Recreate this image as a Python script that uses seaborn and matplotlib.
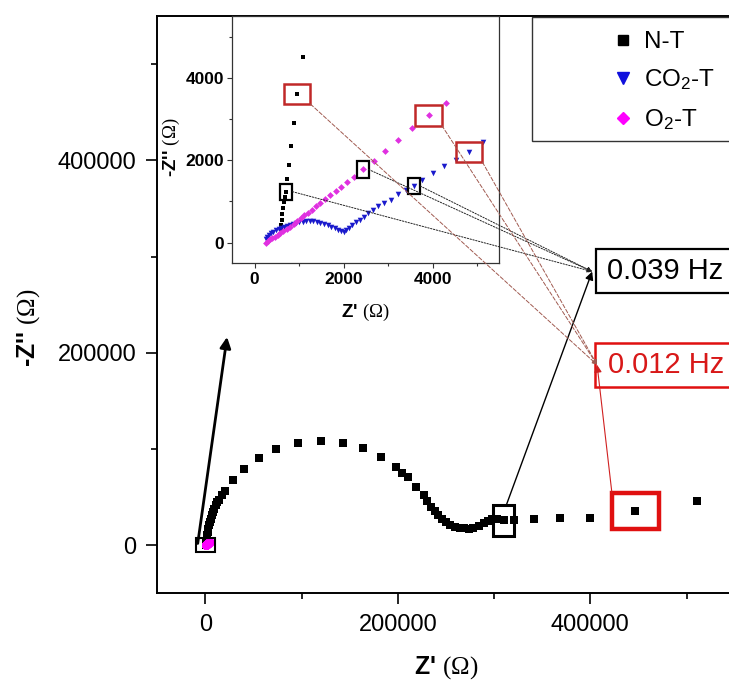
import matplotlib
matplotlib.use("Agg")
import matplotlib.pyplot as plt
import seaborn as sns
from matplotlib.patches import Rectangle, ConnectionPatch
from matplotlib.lines import Line2D
from matplotlib.ticker import MultipleLocator

sns.set_style("ticks")
plt.rcParams["font.family"] = ["Liberation Sans", "DejaVu Sans"]
plt.rcParams["mathtext.fontset"] = "custom"
plt.rcParams["mathtext.rm"] = "Liberation Sans"
plt.rcParams["mathtext.sf"] = "Liberation Serif"
plt.rcParams["mathtext.it"] = "Liberation Sans:italic"
plt.rcParams["mathtext.bf"] = "Liberation Sans:bold"
plt.rcParams["text.color"] = "black"
plt.rcParams["axes.labelcolor"] = "black"
plt.rcParams["xtick.color"] = "black"
plt.rcParams["ytick.color"] = "black"
plt.rcParams["xtick.labelcolor"] = "black"
plt.rcParams["ytick.labelcolor"] = "black"

# ---------------- data ----------------
series_names = ["N-T", "CO$_2$-T", "O$_2$-T"]

nt_x = [585, 598, 612, 626, 641, 660, 688, 717, 733, 770, 823, 890, 957, 1083,
        1200, 1700, 2300, 3000, 3800, 4700, 5700, 6800, 8000, 9300, 10700, 12200,
        13800, 17200, 20800, 28600, 40000, 55400, 73400, 96000, 120100, 143000,
        163700, 182800, 197900, 204000, 210600, 219000, 226700, 230500, 234300,
        238200, 242000, 245800, 249600, 254400, 259300, 264100, 268900, 273600,
        278400, 284100, 289900, 294000, 297700, 303500, 309800, 320200, 341600,
        368500, 399200, 446400, 510400]
nt_y = [330, 440, 559, 690, 840, 990, 1110, 1238, 1536, 1896, 2352, 2911, 3607, 4495,
        8000, 11000, 14000, 17000, 20500, 24000, 27500, 31000, 34500, 38000, 41500, 44500,
        47000, 52000, 56600, 67700, 79000, 90600, 100300, 106600, 108700, 106600,
        100700, 91300, 80900, 75500, 70500, 60800, 52000, 46000, 39900,
        35500, 31250, 27500, 24300, 21500, 19100, 18000, 17400, 17200,
        17400, 19500, 22600, 25500, 27000, 27000, 26000, 26000, 27100,
        28500, 27800, 35800, 46200]

co2_x = [250, 280, 320, 370, 420, 480, 540, 600, 660, 720, 790, 860, 930, 1000, 1080,
         1160, 1240, 1320, 1400, 1480, 1560, 1640, 1720, 1800, 1880, 1950, 2000, 2060,
         2130, 2200, 2280, 2360, 2450, 2550, 2660, 2780, 2910, 3065, 3220, 3400, 3587,
         3760, 4000, 4267, 4522, 4821, 5142]
co2_y = [100, 150, 190, 230, 265, 300, 330, 360, 385, 410, 435, 455, 475, 490, 505,
         515, 520, 515, 500, 480, 455, 425, 390, 350, 310, 275, 260, 300,
         360, 420, 490, 560, 630, 710, 790, 880, 970, 1040, 1180, 1290, 1375,
         1530, 1700, 1863, 2000, 2199, 2455]

o2_x = [262, 300, 350, 400, 460, 520, 580, 650, 720, 800, 880, 960, 1040, 1120, 1200,
        1290, 1380, 1480, 1590, 1700, 1820, 1950, 2080, 2230, 2429, 2680, 2940, 3230,
        3540, 3909, 4305]
o2_y = [0, 40, 80, 110, 150, 190, 230, 280, 330, 390, 450, 520, 590, 660, 730,
        800, 880, 960, 1050, 1150, 1250, 1360, 1470, 1600, 1776, 1990, 2220, 2480,
        2780, 3087, 3391]

main_ticks = [0, 200000, 400000]
main_ticklabels = ["0", "200000", "400000"]
inset_ticks = [0, 2000, 4000]
inset_ticklabels = ["0", "2000", "4000"]
freq_labels = ["0.039 Hz", "0.012 Hz"]

# highlighted points (indices into the series)
nt_hl_black, nt_hl_red = 7, 12          # inset N-T boxes
o2_hl_black, o2_hl_red = 24, 29         # inset O2-T boxes
co2_hl_black, co2_hl_red = 40, 45       # inset CO2-T boxes
nt_main_black, nt_main_red = 60, 65     # main-plot boxes

# ---------------- figure ----------------
W, H = 729, 684
fig = plt.figure(figsize=(W / 100, H / 100), dpi=100)
ax = fig.add_axes([157.3 / W, 1 - 593.3 / H, 577.4 / W, 577.3 / H])

sns.scatterplot(x=nt_x, y=nt_y, ax=ax, marker="s", color="black", s=28,
                linewidth=0, zorder=3, legend=False)
sns.scatterplot(x=co2_x, y=co2_y, ax=ax, marker="v", color="#1a1acc", s=14,
                linewidth=0, zorder=3, legend=False)
sns.scatterplot(x=o2_x, y=o2_y, ax=ax, marker="o", color="#ff00ff", s=40,
                linewidth=0, zorder=4, legend=False)

ax.set_xlim(-50000, 550000)
ax.set_ylim(-50000, 550000)
ax.set_xticks(main_ticks)
ax.set_xticklabels(main_ticklabels)
ax.set_yticks(main_ticks)
ax.set_yticklabels(main_ticklabels)
ax.xaxis.set_minor_locator(MultipleLocator(100000))
ax.yaxis.set_minor_locator(MultipleLocator(100000))
ax.tick_params(which="major", direction="out", length=8, width=1.2, labelsize=17,
               pad=7, color="black", labelcolor="black")
ax.tick_params(which="minor", direction="out", length=4, width=1.2, color="black")
for s in ["left", "bottom", "top", "right"]:
    ax.spines[s].set_linewidth(1.4)
    ax.spines[s].set_color("black")

ax.set_xlabel(r"Z' $\mathsf{(\Omega)}$", fontsize=18, fontweight="bold", color="black")
ax.set_ylabel(r"-Z'' $\mathsf{(\Omega)}$", fontsize=18, fontweight="bold", color="black")
ax.xaxis.set_label_coords(0.5, -0.105)
ax.yaxis.set_label_coords(-0.2, 0.46)

# boxes on main plot
ax.add_patch(Rectangle((-9500, -7500), 19000, 15000, fill=False, ec="black",
                       lw=1.5, zorder=5))
bx, by = nt_x[nt_main_black], nt_y[nt_main_black]
ax.add_patch(Rectangle((bx - 10500, by - 16000), 21000, 32000, fill=False,
                       ec="black", lw=2.2, zorder=5))
rx, ry = nt_x[nt_main_red], nt_y[nt_main_red]
ax.add_patch(Rectangle((rx - 24000, ry - 18500), 49000, 37000, fill=False,
                       ec="#e01010", lw=3.2, zorder=5))

# frequency labels (boxes run off the right edge, as in the reference)
tip39 = (401900, 284400)
tip12 = (407000, 187500)
ax.add_patch(Rectangle((406000, 262500), 200000, 45800, fc="white", ec="black",
                       lw=1.6, zorder=6, clip_on=False))
ax.add_patch(Rectangle((405000, 164600), 200000, 45800, fc="white", ec="#e01010",
                       lw=1.8, zorder=6, clip_on=False))
ax.text(417000, 285400, freq_labels[0], fontsize=21, ha="left", va="center",
        color="black", zorder=7)
ax.text(418500, 187000, freq_labels[1], fontsize=21, ha="left", va="center",
        color="#d81818", zorder=7)

# arrows in main plot
ax.annotate("", xy=tip39, xytext=(bx + 3000, by + 16000),
            arrowprops=dict(arrowstyle="-|>", color="black", lw=1.0,
                            mutation_scale=12, shrinkA=0, shrinkB=0), zorder=8)
ax.annotate("", xy=tip12, xytext=(rx - 24000, ry + 18500),
            arrowprops=dict(arrowstyle="-|>", color="#d02020", lw=0.8,
                            mutation_scale=11, shrinkA=0, shrinkB=0), zorder=8)
ax.annotate("", xy=(22500, 216400), xytext=(-8000, 1800),
            arrowprops=dict(arrowstyle="-|>", color="black", lw=2.0,
                            mutation_scale=16, shrinkA=0, shrinkB=0), zorder=8)

# ---------------- inset ----------------
axin = fig.add_axes([232.3 / W, 1 - 263.3 / H, 267 / W, 247.3 / H])
axin.set_zorder(2)
axin.set_facecolor("white")
sns.scatterplot(x=nt_x, y=nt_y, ax=axin, marker="s", color="black", s=9,
                linewidth=0, zorder=3, legend=False)
sns.scatterplot(x=co2_x, y=co2_y, ax=axin, marker="v", color="#1a1acc", s=16,
                linewidth=0, zorder=3, legend=False)
sns.scatterplot(x=o2_x, y=o2_y, ax=axin, marker="D", color="#e030e0", s=12,
                linewidth=0, zorder=4, legend=False)
axin.set_xlim(-500, 5500)
axin.set_ylim(-500, 5500)
axin.set_xticks(inset_ticks)
axin.set_xticklabels(inset_ticklabels, fontweight="bold")
axin.set_yticks(inset_ticks)
axin.set_yticklabels(inset_ticklabels, fontweight="bold")
axin.xaxis.set_minor_locator(MultipleLocator(1000))
axin.yaxis.set_minor_locator(MultipleLocator(1000))
axin.tick_params(which="major", direction="out", length=3.5, width=0.8,
                 labelsize=12.5, pad=2.5, color="#333333", labelcolor="black")
axin.tick_params(which="minor", direction="out", length=2, width=0.8, color="#333333")
for s in ["left", "bottom", "top", "right"]:
    axin.spines[s].set_linewidth(0.9)
    axin.spines[s].set_color("#333333")
axin.set_xlabel(r"Z' $\mathsf{(\Omega)}$", fontsize=13.5, fontweight="bold", color="black")
axin.set_ylabel(r"-Z'' $\mathsf{(\Omega)}$", fontsize=13.5, fontweight="bold", color="black")
axin.xaxis.set_label_coords(0.5, -0.155)
axin.yaxis.set_label_coords(-0.19, 0.47)

# inset highlight boxes
bw_k, bh_k = 270, 390
bw_r, bh_r = 600, 490
black_pts = [(nt_x[nt_hl_black], nt_y[nt_hl_black]),
             (o2_x[o2_hl_black], o2_y[o2_hl_black]),
             (co2_x[co2_hl_black], co2_y[co2_hl_black])]
red_pts = [(nt_x[nt_hl_red], nt_y[nt_hl_red]),
           (o2_x[o2_hl_red], o2_y[o2_hl_red]),
           (co2_x[co2_hl_red], co2_y[co2_hl_red])]
for (cx, cy) in black_pts:
    axin.add_patch(Rectangle((cx - bw_k / 2, cy - bh_k / 2), bw_k, bh_k,
                             fill=False, ec="black", lw=1.6, zorder=5))
for (cx, cy) in red_pts:
    axin.add_patch(Rectangle((cx - bw_r / 2, cy - bh_r / 2), bw_r, bh_r,
                             fill=False, ec="#c02828", lw=1.8, zorder=5))

# connector lines from inset to labels
for (cx, cy) in black_pts:
    con = ConnectionPatch(xyA=(cx + bw_k / 2, cy), coordsA=axin.transData,
                          xyB=tip39, coordsB=ax.transData,
                          arrowstyle="-|>", linestyle=(0, (1.5, 1.5)), color="#222222",
                          lw=0.7, mutation_scale=7, zorder=9)
    fig.add_artist(con)
for (cx, cy) in red_pts:
    con = ConnectionPatch(xyA=(cx + bw_r / 2, cy - bh_r / 2), coordsA=axin.transData,
                          xyB=tip12, coordsB=ax.transData,
                          arrowstyle="-|>", linestyle=(0, (4, 2)), color="#a05a50",
                          lw=0.7, mutation_scale=7, zorder=9)
    fig.add_artist(con)

# ---------------- legend ----------------
fig.add_artist(Rectangle((532 / W, 1 - 141 / H), 0.4, 124 / H,
                         transform=fig.transFigure, fc="white", ec="#333333",
                         lw=1.0, zorder=4))
handles = [Line2D([], [], marker="s", color="black", ls="none", markersize=7),
           Line2D([], [], marker="v", color="#1010dd", ls="none", markersize=8),
           Line2D([], [], marker="D", color="#ff00ff", ls="none", markersize=6.5)]
fig.legend(handles, series_names, loc="upper left",
           bbox_to_anchor=(611 / W, 1 - 31 / H), frameon=False, fontsize=17.5,
           handlelength=1.0, handletextpad=0.35, borderpad=0, borderaxespad=0,
           labelspacing=0.6, labelcolor="black")

fig.savefig("out.png", dpi=100)
